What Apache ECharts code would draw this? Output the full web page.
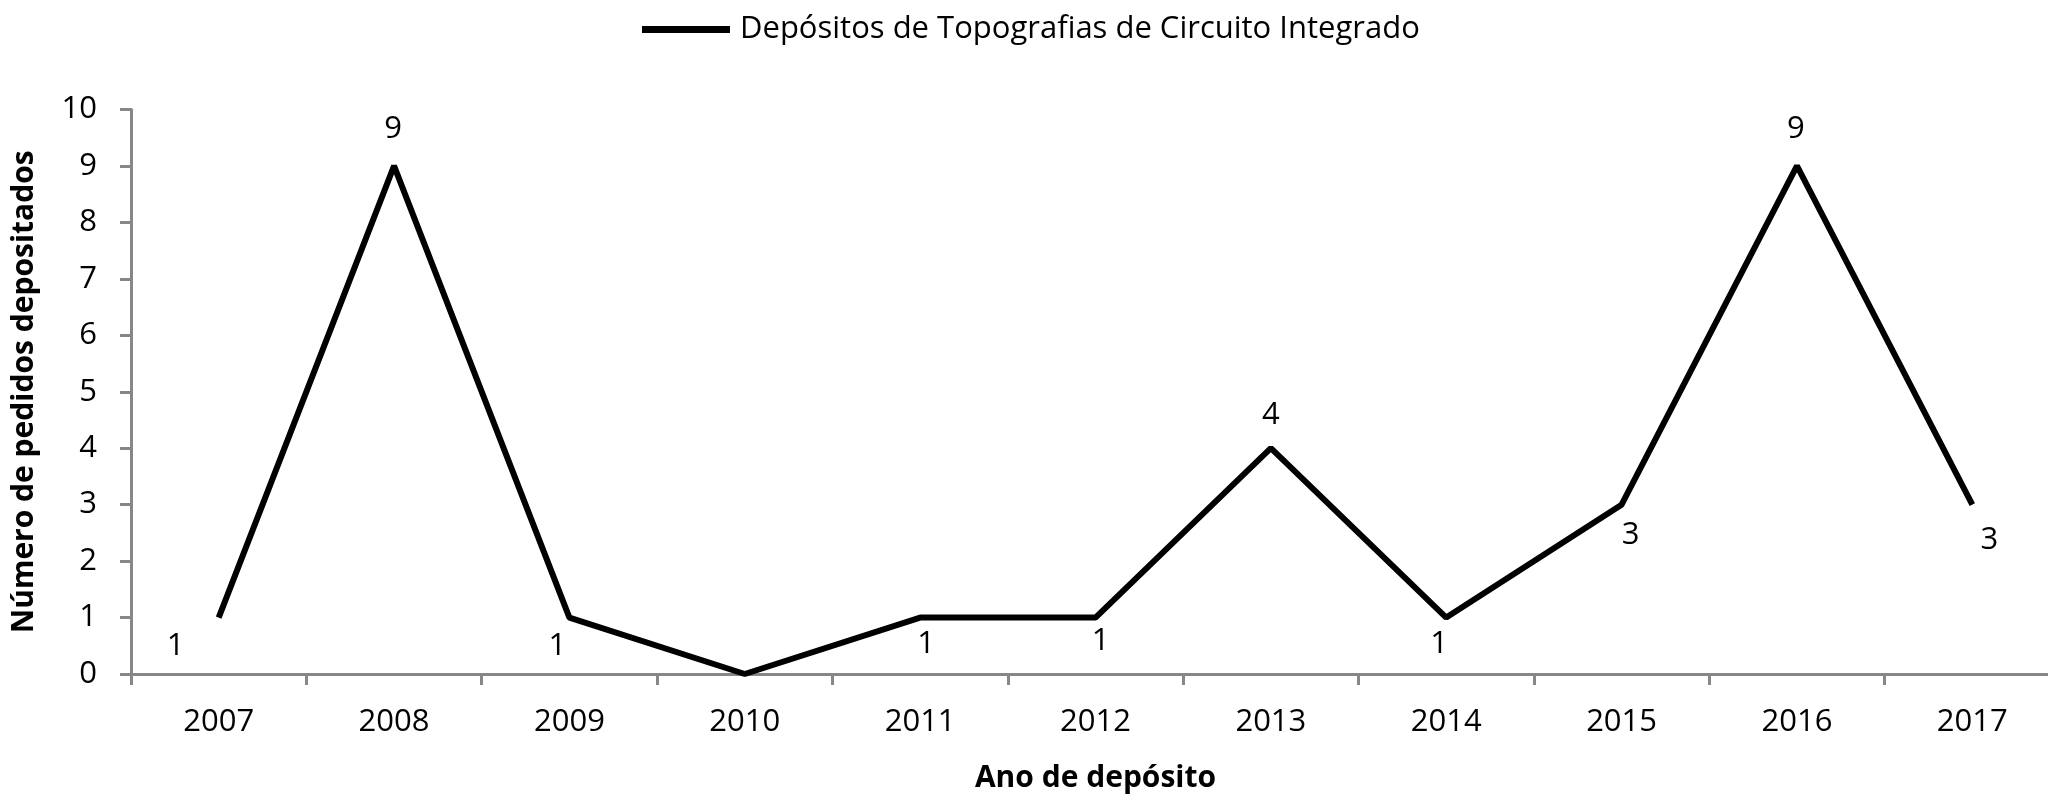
<!DOCTYPE html>
<html>
<head>
<meta charset="utf-8">
<script src="https://cdn.jsdelivr.net/npm/echarts@6/dist/echarts.min.js"></script>
<style>
html,body{margin:0;padding:0;background:#fff;}
#chart{width:2048px;height:796px;}
</style>
</head>
<body>
<div id="chart"></div>
<script>
const years = ['2007','2008','2009','2010','2011','2012','2013','2014','2015','2016','2017'];
const deposits = [1, 9, 1, 0, 1, 1, 4, 1, 3, 9, 3];
const seriesName = 'Depósitos de Topografias de Circuito Integrado';
const xAxisTitle = 'Ano de depósito';
const yAxisTitle = 'Número de pedidos depositados';

// label placement (style only, not data)
const labelOffsets = [[-43,29],[-1,-37],[-12,29],null,[6,27],[5,24],[0,-33],[-7,27],[9,31],[-1,-37],[17,36]];

const FONT = '"Open Sans", "Noto Sans", sans-serif';
const AXIS_COLOR = '#878787';

const chart = echarts.init(document.getElementById('chart'), null, {renderer:'canvas'});
chart.setOption({
  backgroundColor: '#fff',
  animation: false,
  textStyle: {fontFamily: FONT},
  legend: {
    left: 637, top: 9,
    itemWidth: 88, itemHeight: 14,
    icon: 'path://M0,0 L88,0 L88,7 L0,7 Z',
    itemStyle: {color: '#000', opacity: 1, borderWidth: 0},
    lineStyle: {opacity: 0},
    textStyle: {fontFamily: FONT, fontSize: 31, color: '#000', padding: [0,0,0,5]},
    data: [seriesName]
  },
  grid: {left: 131, right: -12, top: 109.5, bottom: 122, outerBoundsMode: 'none', containLabel: false},
  xAxis: {
    type: 'category',
    data: years,
    boundaryGap: true,
    name: xAxisTitle,
    nameLocation: 'middle',
    nameGap: 89,
    nameTextStyle: {fontFamily: FONT, fontSize: 30, fontWeight: 'bold', color: '#000'},
    axisLine: {lineStyle: {color: AXIS_COLOR, width: 3}},
    axisTick: {show: true, length: 11, lineStyle: {color: AXIS_COLOR, width: 3}},
    axisLabel: {fontFamily: FONT, fontSize: 31, color: '#000', margin: 33},
    splitLine: {show: false}
  },
  yAxis: {
    type: 'value',
    min: 0, max: 10, interval: 1,
    name: yAxisTitle,
    nameLocation: 'middle',
    nameGap: 92,
    nameTextStyle: {fontFamily: FONT, fontSize: 30, fontWeight: 'bold', color: '#000'},
    axisLine: {show: true, lineStyle: {color: AXIS_COLOR, width: 3}},
    axisTick: {show: true, length: 11, lineStyle: {color: AXIS_COLOR, width: 3}},
    axisLabel: {fontFamily: FONT, fontSize: 31, color: '#000', margin: 34},
    splitLine: {show: false}
  },
  series: [{
    name: seriesName,
    type: 'line',
    data: deposits.map((v, i) => ({
      value: v,
      label: labelOffsets[i]
        ? {show: true, position: 'inside', offset: labelOffsets[i]}
        : {show: false}
    })),
    symbol: 'circle',
    symbolSize: 1,
    showSymbol: true,
    itemStyle: {color: 'rgba(0,0,0,0)', borderWidth: 0},
    lineStyle: {color: '#000', width: 6},
    label: {fontFamily: FONT, fontSize: 31, color: '#000', position: 'inside'},
    emphasis: {disabled: true}
  }]
});
</script>
</body>
</html>
